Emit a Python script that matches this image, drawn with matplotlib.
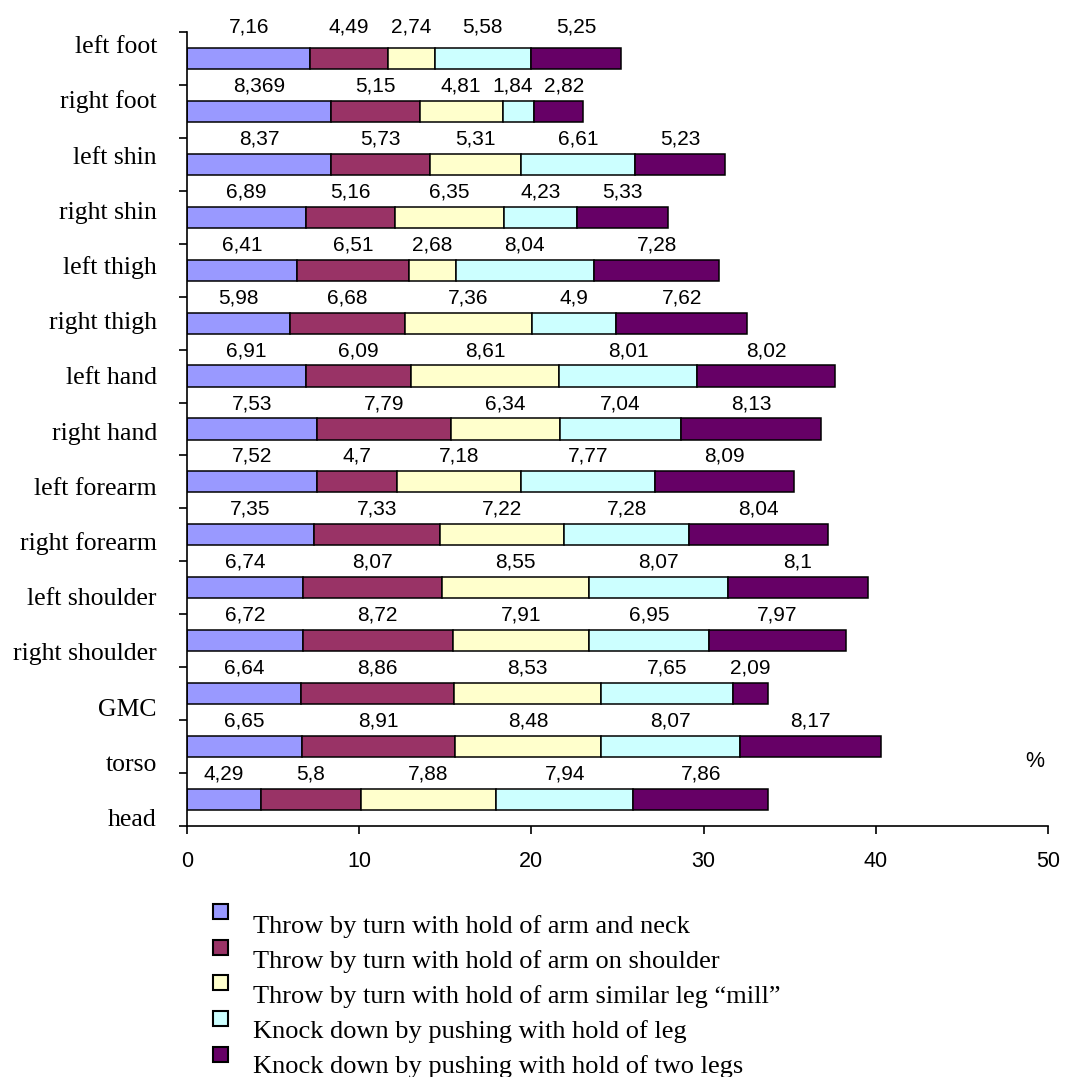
import numpy as np
import matplotlib
matplotlib.use("Agg")
from matplotlib import pyplot as plt
from matplotlib.patches import Rectangle

# body parts, bottom row first
parts = ["head", "torso", "GMC", "right shoulder", "left shoulder",
         "right forearm", "left forearm", "right hand", "left hand",
         "right thigh", "left thigh", "right shin", "left shin",
         "right foot", "left foot"]

techniques = [
    "Throw by turn with hold of arm and neck",
    "Throw by turn with hold of arm on shoulder",
    "Throw by turn with hold of arm similar leg \u201cmill\u201d",
    "Knock down by pushing with hold of leg",
    "Knock down by pushing with hold of two legs",
]

arm_neck = [4.29, 6.65, 6.64, 6.72, 6.74, 7.35, 7.52, 7.53, 6.91, 5.98, 6.41, 6.89, 8.37, 8.369, 7.16]
arm_shoulder = [5.8, 8.91, 8.86, 8.72, 8.07, 7.33, 4.7, 7.79, 6.09, 6.68, 6.51, 5.16, 5.73, 5.15, 4.49]
mill = [7.88, 8.48, 8.53, 7.91, 8.55, 7.22, 7.18, 6.34, 8.61, 7.36, 2.68, 6.35, 5.31, 4.81, 2.74]
one_leg = [7.94, 8.07, 7.65, 6.95, 8.07, 7.28, 7.77, 7.04, 8.01, 4.9, 8.04, 4.23, 6.61, 1.84, 5.58]
two_legs = [7.86, 8.17, 2.09, 7.97, 8.1, 8.04, 8.09, 8.13, 8.02, 7.62, 7.28, 5.33, 5.23, 2.82, 5.25]

series = [arm_neck, arm_shoulder, mill, one_leg, two_legs]
colors = ["#9999FF", "#993366", "#FFFFCC", "#CCFFFF", "#660066"]

serif = ["Liberation Serif", "DejaVu Serif"]
sans = ["Liberation Sans", "DejaVu Sans"]

fig = plt.figure(figsize=(10.65, 10.77), dpi=100)
ax = fig.add_axes([0.1756, 0.2331, 0.8084, 0.7372])

vals = np.array(series)            # shape (5, n_parts)
starts = np.cumsum(vals, axis=0) - vals
y = np.arange(len(parts))

for k, (col, name) in enumerate(zip(colors, techniques)):
    ax.barh(y, vals[k], left=starts[k], height=0.4, color=col,
            edgecolor="black", linewidth=1.1, label=name)

# value labels centred over each segment, pushed apart where they would collide
min_gap = 3.0
for j, yi in enumerate(y):
    xs = starts[:, j] + vals[:, j] / 2
    for k in range(1, len(xs)):
        gap = xs[k] - xs[k - 1]
        if gap < min_gap:
            xs[k - 1] -= (min_gap - gap) / 2
            xs[k] += (min_gap - gap) / 2
    dy = 0.6 if j == len(parts) - 1 else 0.48
    for x, v in zip(xs, vals[:, j]):
        ax.text(x, yi + dy, f"{v:g}".replace(".", ","),
                ha="center", va="center", fontsize=15, family=sans)

ax.set_xlim(0, 50)
ax.set_ylim(-0.5, len(parts) - 0.5)
ax.spines["top"].set_visible(False)
ax.spines["right"].set_visible(False)
for s in ("left", "bottom"):
    ax.spines[s].set_linewidth(1.2)

ax.set_xticks(np.arange(0, 51, 10))
ax.tick_params(axis="x", direction="out", length=6, width=1.2, pad=12,
               labelsize=15.5)
for t in ax.get_xticklabels():
    t.set_family(sans)

# y ticks sit between the bars; names are placed separately
ax.set_yticks([])
ax.set_yticks(np.arange(-0.5, len(parts)), minor=True)
ax.tick_params(axis="y", which="minor", direction="out", length=6, width=1.2)
ax.yaxis.set_tick_params(which="minor", labelleft=False)

step = (len(parts) - 0.4) / (len(parts) - 1)
for i, name in enumerate(parts):
    ax.text(-0.035, -0.5 + i * step, name, transform=ax.get_yaxis_transform(),
            ha="right", va="baseline", fontsize=18.5, family=serif)

ax.text(0.985, 0.081, "%", transform=ax.transAxes, ha="center", va="center",
        fontsize=15.5, family=sans)

# legend drawn by hand: square marker above each line of text
W, H = 1065, 1077
for i, (name, col) in enumerate(zip(techniques, colors)):
    top = 904 + i * 35.7
    fig.add_artist(Rectangle((213 / W, 1 - (top + 15) / H), 15 / W, 15 / H,
                             transform=fig.transFigure, facecolor=col,
                             edgecolor="black", linewidth=1.5))
    fig.text(253 / W, 1 - (933 + i * 35) / H, name, ha="left", va="baseline",
             fontsize=19, family=serif)

fig.savefig("out.png", dpi=100)
